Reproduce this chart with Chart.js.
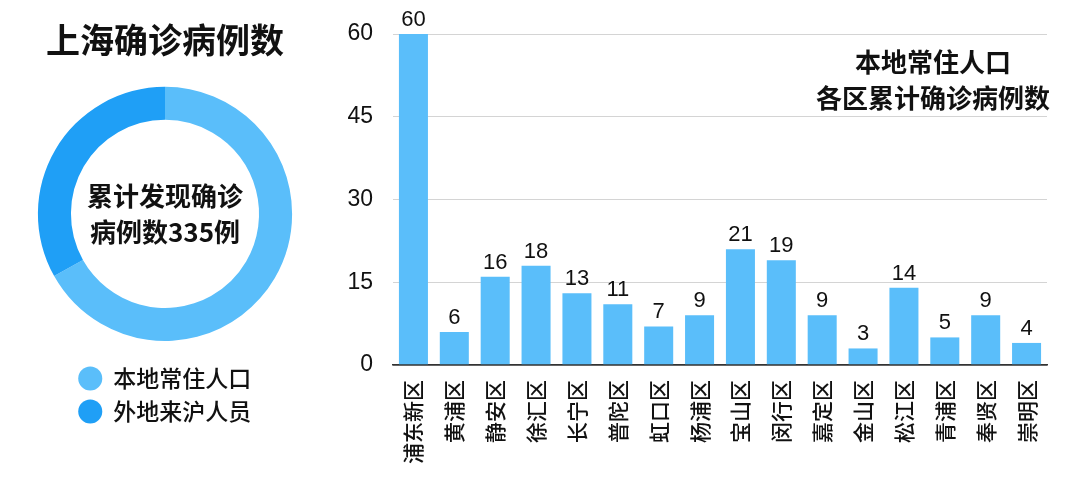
<!DOCTYPE html>
<html>
<head>
<meta charset="utf-8">
<script src="https://cdn.jsdelivr.net/npm/chart.js@4"></script>
<style>
  html, body { margin: 0; padding: 0; background: #fff; }
  #wrap { position: relative; width: 1080px; height: 484px; }
  #pieBox { position: absolute; left: 0; top: 0; width: 330px; height: 484px; }
  #barBox { position: absolute; left: 330px; top: 0; width: 750px; height: 484px; }
</style>
</head>
<body>
<div id="wrap">
  <div id="pieBox"><canvas id="pie"></canvas></div>
  <div id="barBox"><canvas id="bar"></canvas></div>
</div>
<script>
// donut data
const groups = ['本地常住人口', '外地来沪人员'];
const groupCases = [224, 111];
const totalText = ['累计发现确诊', '病例数335例'];

// bar data
const districts = ['浦东新区', '黄浦区', '静安区', '徐汇区', '长宁区', '普陀区', '虹口区', '杨浦区',
  '宝山区', '闵行区', '嘉定区', '金山区', '松江区', '青浦区', '奉贤区', '崇明区'];
const districtCases = [60, 6, 16, 18, 13, 11, 7, 9, 21, 19, 9, 3, 14, 5, 9, 4];
const yTicks = [0, 15, 30, 45, 60];
const barNote = ['本地常住人口', '各区累计确诊病例数'];

const cjk = '"Noto Sans CJK SC", "Noto Sans", sans-serif';
const num = '"Liberation Sans", Arial, sans-serif';
const light = '#5abefa';
const dark = '#1f9ff6';

Chart.defaults.color = '#111';
Chart.defaults.animation = false;

// text in the hole of the donut
const centerText = {
  id: 'centerText',
  afterDraw(chart) {
    const meta = chart.getDatasetMeta(0).data[0];
    const ctx = chart.ctx;
    ctx.save();
    ctx.font = 'bold 26px ' + cjk;
    ctx.fillStyle = '#111';
    ctx.textAlign = 'center';
    ctx.textBaseline = 'middle';
    ctx.fillText(totalText[0], meta.x, meta.y - 18);
    ctx.fillText(totalText[1], meta.x, meta.y + 18);
    ctx.restore();
  }
};

new Chart(document.getElementById('pie'), {
  type: 'doughnut',
  data: {
    labels: groups,
    datasets: [{
      data: groupCases,
      backgroundColor: [light, dark],
      borderWidth: 0,
      cutout: '74%'
    }]
  },
  options: {
    responsive: true,
    maintainAspectRatio: false,
    layout: { padding: { left: 37, right: 37, top: 0, bottom: 51 } },
    plugins: {
      title: {
        display: true,
        text: '上海确诊病例数',
        color: '#111',
        font: { family: cjk, size: 34, weight: 'bold' },
        padding: { top: 20, bottom: 26 }
      },
      legend: {
        position: 'bottom',
        title: { display: true, text: '', font: { size: 10 }, padding: { top: 4, bottom: 0 } },
        labels: {
          usePointStyle: true,
          pointStyle: 'circle',
          boxWidth: 24,
          boxHeight: 17,
          padding: 10,
          color: '#111',
          font: { family: cjk, size: 23, weight: '500' }
        }
      },
      tooltip: { enabled: false }
    }
  },
  plugins: [centerText]
});

// value above each bar + the note in the top right
const barText = {
  id: 'barText',
  afterDatasetsDraw(chart) {
    const ctx = chart.ctx;
    const meta = chart.getDatasetMeta(0);
    ctx.save();
    ctx.font = '22px ' + num;
    ctx.fillStyle = '#111';
    ctx.textAlign = 'center';
    ctx.textBaseline = 'alphabetic';
    meta.data.forEach((bar, i) => {
      ctx.fillText(String(districtCases[i]), bar.x, bar.y - 8);
    });
    ctx.font = 'bold 26px ' + cjk;
    ctx.textBaseline = 'middle';
    ctx.fillText(barNote[0], 603, 62);
    ctx.fillText(barNote[1], 603, 98);
    ctx.restore();
  }
};

new Chart(document.getElementById('bar'), {
  type: 'bar',
  data: {
    labels: districts,
    datasets: [{
      data: districtCases,
      backgroundColor: light,
      categoryPercentage: 1,
      barPercentage: 0.71
    }]
  },
  options: {
    responsive: true,
    maintainAspectRatio: false,
    layout: { padding: { left: 0, right: 33, top: 34, bottom: 0 } },
    plugins: { legend: { display: false }, tooltip: { enabled: false } },
    scales: {
      x: {
        grid: { display: false, drawTicks: false },
        border: { display: true, color: '#333', width: 1.5 },
        ticks: {
          autoSkip: false,
          maxRotation: 90,
          minRotation: 90,
          padding: 15,
          color: '#111',
          font: { family: cjk, size: 21, weight: '500' }
        },
        afterFit(s) { s.height = 119; }
      },
      y: {
        min: 0,
        max: 60,
        afterBuildTicks(s) { s.ticks = yTicks.map(v => ({ value: v })); },
        grid: {
          drawTicks: false,
          color: c => c.tick && c.tick.value === 0 ? '#333' : '#d4d4d4',
          lineWidth: c => c.tick && c.tick.value === 0 ? 1.5 : 1
        },
        border: { display: false },
        ticks: {
          padding: 20,
          color: '#111',
          font: { family: num, size: 23 }
        },
        afterFit(s) { s.width = 63; }
      }
    }
  },
  plugins: [barText]
});
</script>
</body>
</html>
